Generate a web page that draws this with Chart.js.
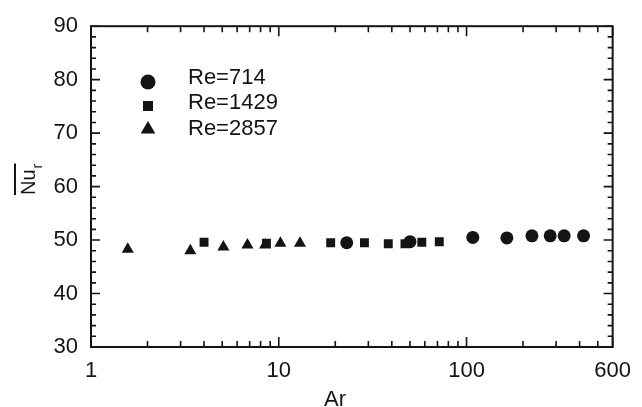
<!DOCTYPE html>
<html>
<head>
<meta charset="utf-8">
<script src="https://cdn.jsdelivr.net/npm/chart.js@4.4.0/dist/chart.umd.min.js"></script>
<style>
  body { margin: 0; background: #fff; }
  canvas { display: block; }
</style>
</head>
<body>
<canvas id="nuchart" width="642" height="407"></canvas>
<script>
// Re=714 (circles)
var ar714 = [23, 50, 108, 164, 223, 279, 331, 420];
var nu714 = [49.5, 49.7, 50.5, 50.4, 50.8, 50.8, 50.8, 50.8];
// Re=1429 (squares)
var ar1429 = [4.0, 8.6, 18.9, 28.6, 38.3, 47, 57.8, 71.6];
var nu1429 = [49.6, 49.4, 49.5, 49.5, 49.3, 49.3, 49.6, 49.7];
// Re=2857 (triangles)
var ar2857 = [1.57, 3.38, 5.07, 6.81, 8.46, 10.2, 12.97];
var nu2857 = [48.3, 48.0, 48.7, 49.1, 49.1, 49.4, 49.4];

var seriesLabels = ['Re=714', 'Re=1429', 'Re=2857'];
var xTickValues = [1, 2, 3, 4, 5, 6, 7, 8, 9, 10, 20, 30, 40, 50, 60, 70, 80, 90, 100, 200, 300, 400, 500, 600];
var xLabelValues = [1, 10, 100, 600];
var yMajorValues = [30, 40, 50, 60, 70, 80, 90];

var ink = '#141414';
var font = "'Liberation Sans', Arial, sans-serif";

function pts(xs, ys) {
    return xs.map(function (v, i) { return {x: v, y: ys[i]}; });
}

function marker(ctx, style, x, y, r) {
    ctx.beginPath();
    if (style === 'circle') {
        ctx.arc(x, y, r, 0, Math.PI * 2);
    } else if (style === 'rect') {
        ctx.rect(x - r, y - r, 2 * r, 2 * r);
    } else {
        ctx.moveTo(x, y - r);
        ctx.lineTo(x + r * 1.05, y + r * 0.8);
        ctx.lineTo(x - r * 1.05, y + r * 0.8);
        ctx.closePath();
    }
    ctx.fill();
}

// frame with inward ticks on all four sides, legend, axis titles
var decorations = {
    id: 'decorations',
    afterDraw: function (chart) {
        var ctx = chart.ctx, a = chart.chartArea;
        var x = chart.scales.x, y = chart.scales.y;
        ctx.save();
        ctx.strokeStyle = ink;
        ctx.lineWidth = 2;
        ctx.strokeRect(a.left, a.top, a.right - a.left, a.bottom - a.top);

        ctx.lineWidth = 1.6;
        ctx.beginPath();
        x.ticks.forEach(function (t) {
            var px = x.getPixelForValue(t.value);
            var len = xLabelValues.indexOf(t.value) >= 0 ? 10 : 6;
            ctx.moveTo(px, a.bottom); ctx.lineTo(px, a.bottom - len);
            ctx.moveTo(px, a.top); ctx.lineTo(px, a.top + len);
        });
        y.ticks.forEach(function (t) {
            var py = y.getPixelForValue(t.value);
            var len = yMajorValues.indexOf(t.value) >= 0 ? 9 : 5;
            ctx.moveTo(a.left, py); ctx.lineTo(a.left + len, py);
            ctx.moveTo(a.right, py); ctx.lineTo(a.right - len, py);
        });
        ctx.stroke();

        // legend
        var styles = ['circle', 'rect', 'triangle'];
        var sizes = [7.5, 5, 7];
        var markY = [82, 106, 128];
        var textY = [78, 103, 129];
        ctx.fillStyle = ink;
        ctx.font = '22px ' + font;
        ctx.textAlign = 'left';
        ctx.textBaseline = 'middle';
        seriesLabels.forEach(function (lab, i) {
            marker(ctx, styles[i], 148, markY[i], sizes[i]);
            ctx.fillText(lab, 188, textY[i]);
        });

        // x title
        ctx.textAlign = 'center';
        ctx.textBaseline = 'alphabetic';
        ctx.fillText('Ar', 335, 406);

        // y title: Nu with overline, subscript r
        ctx.translate(35, 195);
        ctx.rotate(-Math.PI / 2);
        ctx.textAlign = 'left';
        ctx.font = '20px ' + font;
        ctx.fillText('Nu', 0, 0);
        var w = ctx.measureText('Nu').width;
        ctx.font = '14px ' + font;
        ctx.fillText('r', w + 1, 7);
        ctx.lineWidth = 2;
        ctx.beginPath();
        ctx.moveTo(0, -20);
        ctx.lineTo(w + 6, -20);
        ctx.stroke();
        ctx.restore();
    }
};

var chart1 = document.getElementById('nuchart');

var myChart1 = new Chart(chart1, {
    type: 'scatter',
    data: {
        datasets: [{
            label: seriesLabels[0],
            data: pts(ar714, nu714),
            pointStyle: 'circle',
            pointRadius: 6.5,
            backgroundColor: ink,
            borderColor: ink,
            borderWidth: 0
        }, {
            label: seriesLabels[1],
            data: pts(ar1429, nu1429),
            pointStyle: 'rect',
            pointRadius: 6.3,
            backgroundColor: ink,
            borderColor: ink,
            borderWidth: 0
        }, {
            label: seriesLabels[2],
            data: pts(ar2857, nu2857),
            pointStyle: 'triangle',
            pointRadius: 7,
            backgroundColor: ink,
            borderColor: ink,
            borderWidth: 0
        }]
    },
    options: {
        responsive: false,
        animation: false,
        layout: {
            padding: {top: 22, right: 23, left: 0, bottom: 0}
        },
        plugins: {
            legend: {display: false},
            tooltip: {enabled: false}
        },
        scales: {
            x: {
                type: 'logarithmic',
                min: 1,
                max: 600,
                afterBuildTicks: function (scale) {
                    scale.ticks = xTickValues.map(function (v) { return {value: v}; });
                },
                afterFit: function (scale) { scale.height = 60; },
                grid: {display: false, drawTicks: false},
                border: {display: false},
                ticks: {
                    autoSkip: false,
                    maxRotation: 0,
                    padding: 11,
                    color: ink,
                    font: {family: font, size: 22},
                    callback: function (v) {
                        return xLabelValues.indexOf(v) >= 0 ? String(v) : '';
                    }
                }
            },
            y: {
                min: 30,
                max: 90,
                afterFit: function (scale) { scale.width = 91; },
                grid: {display: false, drawTicks: false},
                border: {display: false},
                ticks: {
                    stepSize: 2,
                    autoSkip: false,
                    padding: 13,
                    color: ink,
                    font: {family: font, size: 22},
                    callback: function (v) {
                        return yMajorValues.indexOf(v) >= 0 ? String(v) : '';
                    }
                }
            }
        }
    },
    plugins: [decorations]
});
</script>
</body>
</html>
